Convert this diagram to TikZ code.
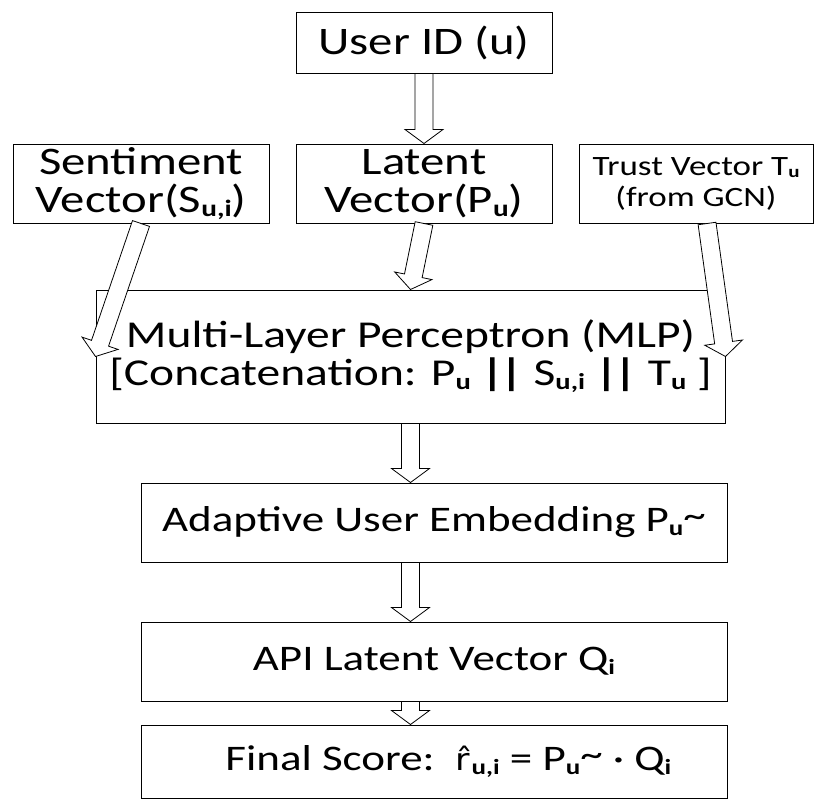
\documentclass[tikz,border=0pt]{standalone}
\usepackage{fontspec}
\setmainfont{Carlito}[FakeStretch=1.25]
\newfontfamily\accentfont{DejaVu Sans}[Scale=0.85, FakeStretch=1.15]
\usetikzlibrary{calc}

% subscripts set small and heavy, just below the baseline
\newcommand{\sbs}[1]{\raisebox{-0.1em}{\scalebox{0.6}{\bfseries #1}}}
% heavy double bar
\newcommand{\dbar}{{\bfseries|\kern-0.1em|}}
% tilde set a little high
\newcommand{\htilde}{\raisebox{0.12em}{\textasciitilde}}
% r with a circumflex on top
\newcommand{\rhat}{{\accentfont r̂}\kern0.06em}

% hollow block arrow from #1 to #2
\def\bashaft{9pt}
\def\bahead{19pt}
\def\balen{14pt}
\newcommand{\blockarrow}[2]{%
  \coordinate (ba-s) at (#1);
  \coordinate (ba-e) at (#2);
  \coordinate (ba-c) at ($(ba-e)!\balen!(ba-s)$);
  \draw[hollowarrow]
    ($(ba-s)!\bashaft!90:(ba-e)$) -- ($(ba-c)!\bashaft!90:(ba-e)$) --
    ($(ba-c)!\bahead!90:(ba-e)$) -- (ba-e) --
    ($(ba-c)!\bahead!-90:(ba-e)$) -- ($(ba-c)!\bashaft!-90:(ba-e)$) --
    ($(ba-s)!\bashaft!-90:(ba-e)$) -- cycle;
}

\begin{document}
\begin{tikzpicture}[x=1pt,y=-1pt,
  box/.style={draw, line width=1pt, inner sep=0pt, align=center,
    font=\fontsize{36}{38}\selectfont},
  topbox/.style={box, font=\fontsize{39}{38}\selectfont},
  smallbox/.style={box, font=\fontsize{28}{31}\selectfont},
  hollowarrow/.style={draw, fill=white, line width=0.8pt, line join=miter}]

\useasboundingbox (0,0) rectangle (826,800);

\node[topbox, minimum width=256, minimum height=60] (user) at (424,43) {User ID (u)};
\node[topbox, minimum width=256, minimum height=79] (sent) at (141,183.5)
  {Sentiment\\Vector(S\sbs{u,i})};
\node[topbox, minimum width=256, minimum height=79] (latent) at (424,183.5)
  {Latent\\Vector(P\sbs{u})};
\node[smallbox, minimum width=234, minimum height=79] (trust) at (696,183.5)
  {Trust Vector T\sbs{u}\\(from GCN)};
\node[box, font=\fontsize{38}{38}\selectfont, minimum width=629, minimum height=133]
  (mlp) at (410.5,356.5)
  {Multi-Layer Perceptron (MLP)\\{}[Concatenation: P\sbs{u} \dbar{} S\sbs{u,i} \dbar{} T\sbs{u} ]};
\node[box, minimum width=586, minimum height=79] (adapt) at (434,522.5)
  {Adaptive User Embedding P\sbs{u}\htilde};
\node[box, minimum width=586, minimum height=79] (api) at (434,661.5)
  {API Latent Vector Q\sbs{i}};
\node[box, minimum width=586, minimum height=73] (final) at (434,761.5)
  {\hspace*{0.8em}Final Score:\ \ \rhat\sbs{u,i} = P\sbs{u}\htilde\ · Q\sbs{i}};

\coordinate (trust-out) at ($(trust.south west)!0.547!(trust.south east)$);

\blockarrow{user.south}{latent.north}
\blockarrow{latent.south}{mlp.north}
\blockarrow{sent.south}{mlp.west}
\blockarrow{trust-out}{mlp.east}
\blockarrow{mlp.south}{mlp.south |- adapt.north}
\blockarrow{mlp.south |- adapt.south}{mlp.south |- api.north}
\blockarrow{mlp.south |- api.south}{mlp.south |- final.north}
\end{tikzpicture}
\end{document}
